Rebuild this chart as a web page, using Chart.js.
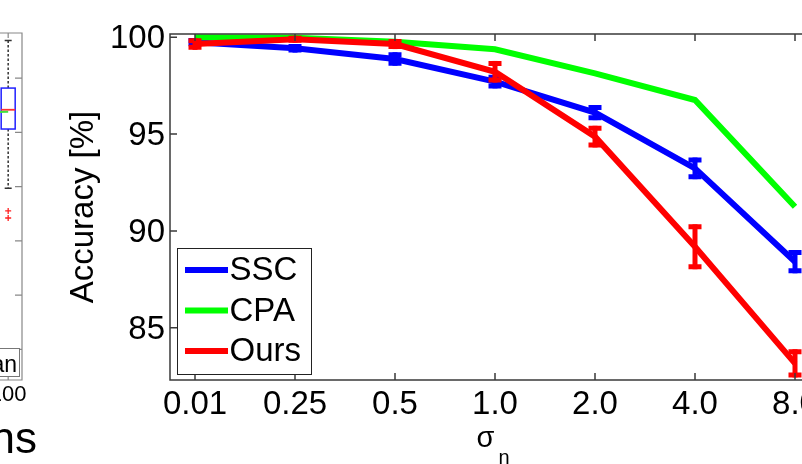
<!DOCTYPE html>
<html>
<head>
<meta charset="utf-8">
<script src="https://cdn.jsdelivr.net/npm/chart.js@4/dist/chart.umd.min.js"></script>
<style>
html,body{margin:0;padding:0;background:#fff;overflow:hidden;width:802px;height:464px;}
#wrap{position:relative;width:802px;height:464px;overflow:hidden;background:#fff;}
#c1{position:absolute;left:-400px;top:0;}
#c2{position:absolute;left:0;top:0;}
</style>
</head>
<body>
<div id="wrap">
<canvas id="c1" width="440" height="464"></canvas>
<canvas id="c2" width="830" height="464"></canvas>
</div>
<script>
// ---------- main chart data ----------
const sigmaLabels = ['0.01','0.25','0.5','1.0','2.0','4.0','8.0'];
const yTickValues = [85, 90, 95, 100];
const seriesNames = ['SSC','CPA','Ours'];
const sscAcc  = [99.75, 99.43, 98.88, 97.71, 96.11, 93.23, 88.41];
const sscErr  = [0.08, 0.09, 0.22, 0.22, 0.26, 0.43, 0.47];
const cpaAcc  = [100.0, 99.98, 99.77, 99.38, 98.14, 96.76, 91.25];
const cpaErr  = [0, 0, 0, 0, 0, 0, 0];
const oursAcc = [99.65, 99.9, 99.65, 98.22, 94.87, 89.18, 83.16];
const oursErr = [0.17, 0.05, 0.13, 0.43, 0.43, 1.03, 0.6];

// ---------- left (cropped) box-plot fragment data ----------
const leftXTicks = [100];
const leftYTicks = [1, 2, 3, 4, 5, 6];
const boxPos    = [100];
const boxQ1     = [5.06];
const boxQ3     = [5.815];
const boxMedian = [5.415];
const whiskLo   = [3.97];
const whiskHi   = [6.694];
const meanX     = [80, 100];
const meanY     = [5.37, 5.378];
const outlierX  = [100, 100];
const outlierY  = [3.55, 3.42];

const FONT = '"Liberation Sans", Arial, Helvetica, sans-serif';
const AXC = '#3a3a3a';

// ---------- left fragment chart ----------
const leftDecor = {
  id: 'leftDecor',
  beforeDatasetsDraw(chart) {
    const {ctx, scales: {x, y}} = chart;
    ctx.save();
    boxPos.forEach((p, i) => {
      const px = x.getPixelForValue(p);
      const q1 = y.getPixelForValue(boxQ1[i]);
      const q3 = y.getPixelForValue(boxQ3[i]);
      const md = y.getPixelForValue(boxMedian[i]);
      const lo = y.getPixelForValue(whiskLo[i]);
      const hi = y.getPixelForValue(whiskHi[i]);
      ctx.strokeStyle = '#333'; ctx.lineWidth = 1.5; ctx.setLineDash([2.5, 2]);
      ctx.beginPath(); ctx.moveTo(px, q3); ctx.lineTo(px, hi); ctx.moveTo(px, q1); ctx.lineTo(px, lo); ctx.stroke();
      ctx.setLineDash([]);
      ctx.beginPath(); ctx.moveTo(px - 3.5, hi); ctx.lineTo(px + 3.5, hi); ctx.moveTo(px - 3.5, lo); ctx.lineTo(px + 3.5, lo); ctx.stroke();
      ctx.strokeStyle = '#2020ff'; ctx.lineWidth = 1.5;
      ctx.strokeRect(px - 7, q3, 14, q1 - q3);
      ctx.strokeStyle = '#ff3030'; ctx.lineWidth = 1.8;
      ctx.beginPath(); ctx.moveTo(px - 7, md); ctx.lineTo(px + 7, md); ctx.stroke();
    });
    ctx.restore();
  },
  afterDraw(chart) {
    const {ctx, chartArea: a, scales: {x, y}} = chart;
    ctx.save();
    ctx.strokeStyle = '#888'; ctx.lineWidth = 1.2;
    ctx.beginPath();
    ctx.moveTo(0, a.top); ctx.lineTo(a.right, a.top); ctx.lineTo(a.right, a.bottom); ctx.lineTo(0, a.bottom);
    leftYTicks.forEach(v => { const py = y.getPixelForValue(v); ctx.moveTo(a.right, py); ctx.lineTo(a.right - 7, py); });
    leftXTicks.forEach(v => { const px = x.getPixelForValue(v); ctx.moveTo(px, a.bottom); ctx.lineTo(px, a.bottom - 5); ctx.moveTo(px, a.top); ctx.lineTo(px, a.top + 5); });
    ctx.stroke();
    ctx.fillStyle = '#fff';
    ctx.fillRect(300, 348, 119.5, 29);
    ctx.strokeStyle = '#777'; ctx.lineWidth = 1;
    ctx.strokeRect(300.5, 348.5, 119, 28);
    ctx.fillStyle = '#000';
    ctx.font = '23px ' + FONT;
    ctx.textAlign = 'right'; ctx.textBaseline = 'alphabetic';
    ctx.fillText('Median', 417, 371.5);
    ctx.font = '44px ' + FONT;
    ctx.fillText('Iterations', 437, 453);
    ctx.restore();
  }
};

new Chart(document.getElementById('c1'), {
  type: 'scatter',
  data: {
    datasets: [
      {
        type: 'line', label: 'Mean',
        data: meanX.map((v, i) => ({x: v, y: meanY[i]})),
        borderColor: '#40e040', borderWidth: 2, pointRadius: 0, fill: false, tension: 0
      },
      {
        label: 'Outliers',
        data: outlierX.map((v, i) => ({x: v, y: outlierY[i]})),
        pointStyle: 'cross', pointRadius: 3, borderColor: '#ff2020', borderWidth: 1.3, backgroundColor: '#ff2020'
      }
    ]
  },
  options: {
    responsive: false, animation: false, events: [],
    layout: {padding: {left: 0, right: 18, top: 33, bottom: 0}},
    plugins: {legend: {display: false}, tooltip: {enabled: false}},
    scales: {
      x: {
        type: 'linear', min: -308, max: 114,
        afterBuildTicks: s => { s.ticks = leftXTicks.map(v => ({value: v})); },
        ticks: {font: {family: FONT, size: 22}, color: '#000', padding: 2, maxRotation: 0, autoSkip: false},
        grid: {display: false, drawTicks: false}, border: {display: false},
        afterFit: s => { s.height = 84; }
      },
      y: {
        display: false, min: 0.434, max: 6.83
      }
    }
  },
  plugins: [leftDecor]
});

// ---------- main chart ----------
const mainDecor = {
  id: 'mainDecor',
  afterDatasetDraw(chart, args) {
    const ds = chart.data.datasets[args.index];
    if (!ds.errors) return;
    const {ctx, scales: {x, y}} = chart;
    ctx.save();
    ctx.strokeStyle = ds.borderColor; ctx.lineCap = 'butt';
    ds.data.forEach((p, i) => {
      const e = ds.errors[i];
      if (!e) return;
      const px = x.getPixelForValue(p.x);
      const t = y.getPixelForValue(p.y + e);
      const b = y.getPixelForValue(p.y - e);
      ctx.lineWidth = 5;
      ctx.beginPath(); ctx.moveTo(px, t - 2.5); ctx.lineTo(px, b + 2.5); ctx.stroke();
      ctx.beginPath();
      ctx.moveTo(px - 6.5, t); ctx.lineTo(px + 6.5, t);
      ctx.moveTo(px - 6.5, b); ctx.lineTo(px + 6.5, b);
      ctx.stroke();
    });
    ctx.restore();
  },
  afterDraw(chart) {
    const {ctx, chartArea: a, scales: {x, y}} = chart;
    ctx.save();
    ctx.strokeStyle = AXC; ctx.lineWidth = 1.5;
    ctx.beginPath();
    ctx.moveTo(chart.width, a.top); ctx.lineTo(a.left, a.top); ctx.lineTo(a.left, a.bottom); ctx.lineTo(chart.width, a.bottom);
    x.ticks.forEach(t => {
      const px = x.getPixelForValue(t.value);
      ctx.moveTo(px, a.bottom); ctx.lineTo(px, a.bottom - 7);
      ctx.moveTo(px, a.top); ctx.lineTo(px, a.top + 7);
    });
    y.ticks.forEach(t => {
      const py = y.getPixelForValue(t.value);
      ctx.moveTo(a.left, py); ctx.lineTo(a.left + 7, py);
    });
    ctx.stroke();

    ctx.fillStyle = '#fff';
    ctx.fillRect(177.5, 248.5, 134, 126);
    ctx.strokeStyle = '#222'; ctx.lineWidth = 1;
    ctx.strokeRect(177.5, 248.5, 134, 126);
    ctx.font = '33px ' + FONT;
    ctx.textAlign = 'left'; ctx.textBaseline = 'middle';
    chart.data.datasets.forEach((ds, i) => {
      const ly = 270 + 40.5 * i;
      ctx.strokeStyle = ds.borderColor; ctx.lineWidth = 6;
      ctx.beginPath(); ctx.moveTo(185, ly); ctx.lineTo(228, ly); ctx.stroke();
      ctx.fillStyle = '#000';
      ctx.fillText(ds.label, 229.5, ly + 1);
    });

    ctx.fillStyle = '#000';
    ctx.textBaseline = 'alphabetic'; ctx.textAlign = 'left';
    ctx.font = '29px ' + FONT;
    ctx.fillText('σ', 476.5, 447);
    ctx.font = '20px ' + FONT;
    ctx.fillText('n', 498.5, 463.5);
    ctx.restore();
  }
};

function mkData(vals) { return vals.map((v, i) => ({x: i, y: v})); }

new Chart(document.getElementById('c2'), {
  type: 'line',
  data: {
    datasets: [
      {label: seriesNames[0], data: mkData(sscAcc), errors: sscErr, borderColor: '#0000ff', borderWidth: 6, pointRadius: 0, fill: false, tension: 0, order: 3},
      {label: seriesNames[1], data: mkData(cpaAcc), errors: cpaErr, borderColor: '#00ff00', borderWidth: 6, pointRadius: 0, fill: false, tension: 0, order: 2},
      {label: seriesNames[2], data: mkData(oursAcc), errors: oursErr, borderColor: '#ff0000', borderWidth: 6, pointRadius: 0, fill: false, tension: 0, order: 1}
    ]
  },
  options: {
    responsive: false, animation: false, events: [],
    layout: {padding: {left: 0, right: 10, top: 34, bottom: 0}},
    plugins: {legend: {display: false}, tooltip: {enabled: false}},
    scales: {
      x: {
        type: 'linear', min: -0.25, max: 6.25,
        afterBuildTicks: s => { s.ticks = sigmaLabels.map((_, i) => ({value: i})); },
        ticks: {callback: v => sigmaLabels[Math.round(v)], font: {family: FONT, size: 33}, color: '#000', padding: 5, maxRotation: 0, autoSkip: false},
        grid: {display: false, drawTicks: false}, border: {display: false},
        afterFit: s => { s.height = 84; }
      },
      y: {
        min: 82.3, max: 100.17,
        afterBuildTicks: s => { s.ticks = yTickValues.map(v => ({value: v})); },
        ticks: {font: {family: FONT, size: 33}, color: '#000', padding: 5, labelOffset: 2},
        title: {display: true, text: 'Accuracy [%]', font: {family: FONT, size: 33}, color: '#000', padding: {top: 64, bottom: 0}},
        grid: {display: false, drawTicks: false}, border: {display: false},
        afterFit: s => { s.width = 170; }
      }
    }
  },
  plugins: [mainDecor]
});
</script>
</body>
</html>
